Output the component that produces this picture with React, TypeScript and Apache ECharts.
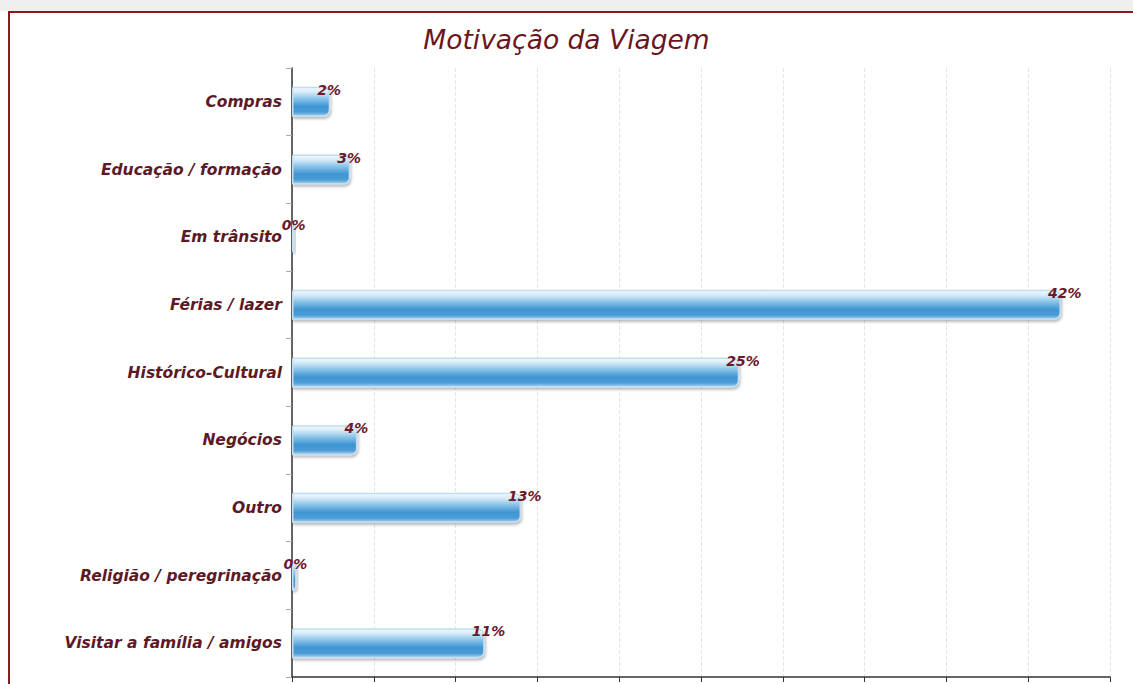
import React, { useEffect, useRef } from "react";
import * as echarts from "echarts";

const categories = [
  "Compras",
  "Educação / formação",
  "Em trânsito",
  "Férias / lazer",
  "Histórico-Cultural",
  "Negócios",
  "Outro",
  "Religião / peregrinação",
  "Visitar a família / amigos",
];
const values = [2.1, 3.2, 0.15, 42.3, 24.6, 3.6, 12.6, 0.25, 10.6];
const labels = ["2%", "3%", "0%", "42%", "25%", "4%", "13%", "0%", "11%"];

const xMin = 0;
const xMax = 45;
const xInterval = 4.5;

export default function App() {
  const ref = useRef<HTMLDivElement>(null);
  useEffect(() => {
    if (!ref.current) return;
    const chart = echarts.init(ref.current, null, { renderer: "svg" });
    const barGradient = new echarts.graphic.LinearGradient(0, 0, 0, 1, [
      { offset: 0, color: "#f2f9fd" },
      { offset: 0.16, color: "#d6ebf8" },
      { offset: 0.4, color: "#86c2e8" },
      { offset: 0.66, color: "#3f95d3" },
      { offset: 0.86, color: "#4b9cd7" },
      { offset: 1, color: "#a6d2ef" },
    ]);
    chart.setOption({
      animation: false,
      backgroundColor: "transparent",
      title: {
        text: "Motivação da Viagem",
        left: "center",
        top: 21,
        textStyle: {
          fontFamily: "DejaVu Sans",
          fontStyle: "italic",
          fontWeight: "normal",
          fontSize: 26.5,
          color: "#6b1520",
        },
      },
      grid: { left: 292, right: 23, top: 68, bottom: 7, containLabel: false },
      xAxis: {
        type: "value",
        min: xMin,
        max: xMax,
        interval: xInterval,
        axisLabel: { show: false },
        axisLine: { show: true, lineStyle: { color: "#333", width: 1.5 } },
        axisTick: { show: true, length: 5, lineStyle: { color: "#333" } },
        splitLine: {
          show: true,
          lineStyle: { color: "#e6e6e6", type: "dashed", width: 1 },
        },
      },
      yAxis: {
        type: "category",
        data: categories,
        inverse: true,
        axisLine: { show: true, lineStyle: { color: "#333", width: 1.5 } },
        axisTick: { show: true, length: 6, lineStyle: { color: "#aaa" } },
        axisLabel: {
          margin: 10,
          fontFamily: "DejaVu Sans",
          fontStyle: "italic",
          fontWeight: "bold",
          fontSize: 15.5,
          color: "#5c1a26",
        },
        splitLine: { show: false },
      },
      series: [
        {
          type: "bar",
          data: values,
          barWidth: 30,
          itemStyle: {
            color: barGradient,
            borderColor: "#c2def0",
            borderWidth: 1.5,
            borderRadius: [0, 6, 6, 0],
            shadowColor: "rgba(0,0,0,0.3)",
            shadowBlur: 3,
            shadowOffsetX: 1,
            shadowOffsetY: 2,
          },
          label: {
            show: true,
            position: "right",
            distance: 0,
            offset: [-13, -12],
            formatter: (p: any) => labels[p.dataIndex],
            fontFamily: "DejaVu Sans",
            fontStyle: "italic",
            fontWeight: "bold",
            fontSize: 14,
            color: "#6b1a2a",
          },
        },
      ],
    });
    return () => chart.dispose();
  }, []);

  return (
    <div
      style={{
        position: "fixed",
        left: 0,
        top: 0,
        width: 1133,
        height: 684,
        overflow: "hidden",
        background: "#ffffff",
      }}
    >
      <div
        style={{
          position: "absolute",
          left: 0,
          top: 0,
          width: 1133,
          height: 11,
          background: "#efefef",
        }}
      />
      <div
        style={{
          position: "absolute",
          left: 8,
          top: 11,
          width: 1200,
          height: 800,
          border: "2px solid #8a1c1c",
          background: "#ffffff",
        }}
      />
      <div
        ref={ref}
        style={{ position: "absolute", left: 0, top: 0, width: 1133, height: 684 }}
      />
    </div>
  );
}
